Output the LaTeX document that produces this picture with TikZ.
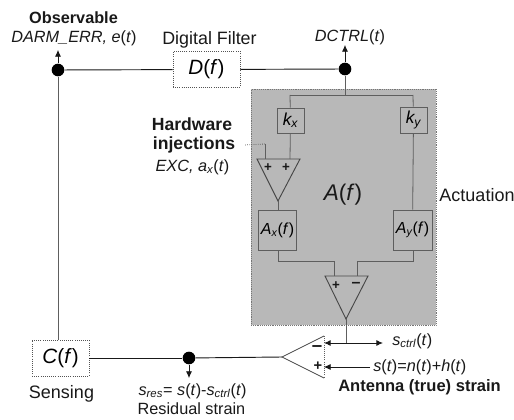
\documentclass[tikz,border=0pt]{standalone}
\usepackage{fontspec}
\setmainfont{Liberation Sans}
\usetikzlibrary{arrows.meta}
\definecolor{panelgray}{gray}{0.72}
\definecolor{ink}{gray}{0.1}
\tikzset{
  wire/.style={draw=ink,line width=0.7pt},
  thinwire/.style={draw=ink!70,line width=0.6pt},
  arrowwire/.style={draw=ink,line width=0.7pt,-{Latex[length=5pt,width=4.5pt]}},
  dotnode/.style={circle,fill=black,inner sep=0pt,minimum size=9.5pt},
  mainbox/.style={draw=ink!75,line width=0.6pt,densely dotted,fill=white,inner sep=0pt,font=\fontsize{15.5}{17}\selectfont},
  smallbox/.style={draw=ink!70,line width=0.7pt,inner sep=0pt,font=\fontsize{13}{15}\selectfont},
  amp/.style={draw=ink!80,line width=0.7pt},
  lab/.style={inner sep=0pt,font=\fontsize{12.2}{14}\selectfont,text=ink},
  labbig/.style={inner sep=0pt,font=\fontsize{13.4}{15}\selectfont,text=ink},
  sign/.style={inner sep=0pt,font=\fontsize{10}{10}\selectfont\bfseries,text=ink}
}
\newcommand{\ssb}[1]{\textsubscript{#1}}
\begin{document}
\begin{tikzpicture}[x=0.75pt,y=-0.75pt]
\useasboundingbox (0,0) rectangle (514,420);
% actuation panel
\node[draw=ink!60,densely dotted,fill=panelgray,minimum width=138.75pt,minimum height=177pt,inner sep=0pt] (panel) at (343.5,207) {};
% boxes
\node[mainbox,minimum width=50.25pt,minimum height=27pt] (D) at (206.5,69.5) {\textit{D}(\textit{f})};
\node[mainbox,minimum width=42.75pt,minimum height=27pt] (C) at (60.5,358) {\textit{C}(\textit{f})};
\node[smallbox,minimum width=20.25pt,minimum height=18.75pt] (kx) at (290.5,120.5) {\textit{k\ssb{x}}};
\node[smallbox,minimum width=20.25pt,minimum height=19.5pt] (ky) at (413.5,120) {\textit{k\ssb{y}}};
\node[smallbox,minimum width=28.5pt,minimum height=30pt] (Ax) at (277.5,230) {\fontsize{12}{13}\selectfont\textit{A\ssb{x}}(\textit{f})};
\node[smallbox,minimum width=29.25pt,minimum height=30pt] (Ay) at (412.5,230) {\fontsize{12}{13}\selectfont\textit{A\ssb{y}}(\textit{f})};
% dots
\node[dotnode] (eDot) at (58,70) {};
\node[dotnode] (dDot) at (345,69) {};
\node[dotnode] (rDot) at (189,358) {};
% free ends and junctions
\coordinate (eEnd) at (58,50);
\coordinate (dEnd) at (345,45);
\coordinate (rEnd) at (189,378);
\coordinate (split) at (345,95);
\coordinate (kxTop) at (290,95);
\coordinate (kyTop) at (413,95);
% summing amp
\coordinate (s1) at (257,159); \coordinate (s2) at (300,159); \coordinate (s3) at (278,201);
\coordinate (sIn1) at (265,159); \coordinate (sIn2) at (290,159);
\coordinate (excA) at (265,144); \coordinate (excB) at (244,145);
\draw[amp] (s1) -- (s2) -- (s3) -- cycle;
% difference amp
\coordinate (d1) at (325,276); \coordinate (d2) at (368,276); \coordinate (d3) at (346,319);
\coordinate (dIn1) at (334,276); \coordinate (dIn2) at (357,276);
\coordinate (axJ) at (278,261); \coordinate (ayJ) at (413,261);
\coordinate (j1) at (334,261); \coordinate (j2) at (357,261);
\draw[amp] (d1) -- (d2) -- (d3) -- cycle;
% comparator
\coordinate (c1) at (324,336); \coordinate (c2) at (324,378); \coordinate (c3) at (282,357);
\draw[draw=ink!80,line width=0.6pt] (c2) -- (c3) -- (c1);
\draw[draw=ink!70,line width=0.6pt,densely dotted] (c1) -- (c2);
\coordinate (ctrlJ) at (346,343); \coordinate (ctrlL) at (324,343); \coordinate (ctrlR) at (383,343);
\coordinate (strainR) at (370,367); \coordinate (strainL) at (324,367);
% connectors
\draw[wire] (eDot) -- (D);
\draw[wire] (D) -- (dDot);
\draw[arrowwire,line width=0.5pt] (eDot) -- (eEnd);
\draw[arrowwire,line width=0.5pt] (dDot) -- (dEnd);
\draw[thinwire] (eDot) -- (C.north -| eDot);
\draw[wire] (C) -- (rDot);
\draw[wire] (rDot) -- (c3);
\draw[arrowwire,line width=0.5pt] (rDot) -- (rEnd);
\draw[thinwire] (dDot) -- (split);
\draw[thinwire] (kxTop) -- (kyTop);
\draw[thinwire] (kxTop) -- (kx);
\draw[thinwire] (kyTop) -- (ky);
\draw[thinwire] (kx) -- (sIn2);
\draw[thinwire] (ky) -- (Ay);
\draw[thinwire] (sIn1) -- (excA);
\draw[thinwire,densely dotted] (excA) -- (excB);
\draw[thinwire] (s3) -- (Ax.north -| s3);
\draw[thinwire] (Ax.south -| axJ) -- (axJ) -- (j1) -- (dIn1);
\draw[thinwire] (Ay.south -| ayJ) -- (ayJ) -- (j2) -- (dIn2);
\draw[thinwire] (d3) -- (ctrlJ);
\draw[draw=ink,line width=0.7pt,{Latex[length=5pt,width=4.5pt]}-{Latex[length=5pt,width=4.5pt]}] (ctrlL) -- (ctrlR);
\draw[draw=ink,line width=0.5pt,-{Latex[length=5pt,width=4.5pt]}] (strainR) -- (strainL);
% signs
\node[sign] (sp1) at (268,168) {+};
\node[sign] (sp2) at (286,168) {+};
\node[sign] (dp) at (336,286) {+};
\node[sign,font=\fontsize{12}{12}\selectfont\bfseries] (dm) at (356,285) {–};
\node[sign,font=\fontsize{14}{14}\selectfont\bfseries] (cm) at (317,349) {–};
\node[sign,font=\fontsize{11}{11}\selectfont\bfseries] (cp) at (318,366) {+};
% labels
\node[lab,font=\fontsize{12.2}{14}\selectfont\bfseries] (tObs) at (73.5,18) {Observable};
\node[lab] (tDarm) at (74,38) {\textit{DARM\_ERR, e}(\textit{t})};
\node[labbig] (tDig) at (209.5,40) {Digital Filter};
\node[lab] (tDctrl) at (350,37) {\textit{DCTRL}(\textit{t})};
\node[labbig,font=\fontsize{13.2}{15}\selectfont\bfseries] (tHw) at (192,124) {Hardware};
\node[labbig,font=\fontsize{13.2}{15}\selectfont\bfseries] (tInj) at (194,145) {injections};
\node[lab] (tExc) at (192.5,167) {\textit{EXC, a\ssb{x}}(\textit{t})};
\node[labbig,font=\fontsize{17}{19}\selectfont] (tA) at (343,195) {\textit{A}(\textit{f})};
\node[labbig,font=\fontsize{13.5}{15}\selectfont] (tAct) at (477,195) {Actuation};
\node[labbig,font=\fontsize{13.5}{15}\selectfont] (tSens) at (61.5,394) {Sensing};
\node[lab] (tSres) at (192.5,391) {\textit{s\ssb{res}}= \textit{s}(\textit{t})-\textit{s\ssb{ctrl}}(\textit{t})};
\node[lab] (tRes) at (191.5,409) {Residual strain};
\node[lab,anchor=west] (tSctrl) at (392,341) {\textit{s\ssb{ctrl}}(\textit{t})};
\node[lab,anchor=west] (tS) at (373,367) {\textit{s}(\textit{t})=\textit{n}(\textit{t})+\textit{h}(\textit{t})};
\node[lab,font=\fontsize{12.4}{14}\selectfont\bfseries,anchor=west] (tAnt) at (338,387) {Antenna (true) strain};
\end{tikzpicture}
\end{document}
